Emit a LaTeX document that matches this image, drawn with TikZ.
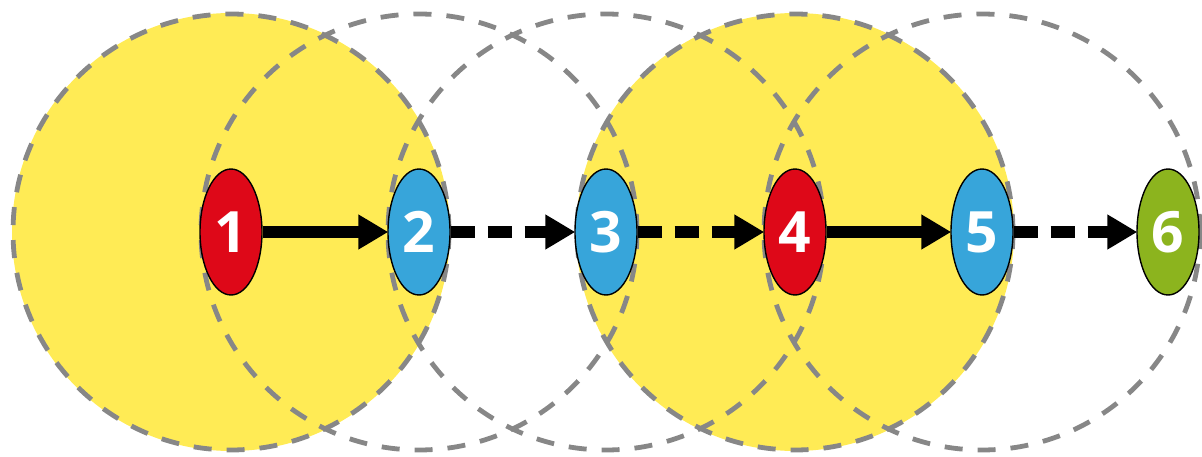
\documentclass[tikz,border=0pt]{standalone}
\usepackage{fontspec}
\setmainfont{Open Sans}
\usetikzlibrary{shapes.geometric,arrows.meta}
\definecolor{ylw}{RGB}{255,235,85}
\definecolor{ringgray}{RGB}{135,135,135}
\definecolor{nred}{RGB}{222,8,24}
\definecolor{nblue}{RGB}{55,165,218}
\definecolor{ngreen}{RGB}{140,180,30}
\tikzset{
  ring/.style={draw=ringgray, line width=4.8pt, dash pattern=on 18pt off 15pt},
  yfill/.style={fill=ylw},
  hop/.style={ellipse, draw=black, line width=1.4pt, minimum width=62pt, minimum height=126pt, inner sep=0pt,
    text=white, font=\fontsize{57}{57}\selectfont\bfseries},
  link/.style={line width=12pt, -{Triangle[length=30pt,width=33pt]}, shorten >=-1pt},
  solidlink/.style={link},
  dashlink/.style={link, dash pattern=on 24pt off 13pt},
}
\begin{document}
\begin{tikzpicture}[x=1pt,y=1pt]
\useasboundingbox (0,0) rectangle (1202,456);
\coordinate (c1) at (231,224);
\coordinate (c2) at (419,224);
\coordinate (c3) at (606,224);
\coordinate (c4) at (795,224);
\coordinate (c5) at (982,224);
\coordinate (c6) at (1168,224);
% yellow discs
\fill[yfill] (c1) circle[radius=219];
\fill[yfill] (c4) circle[radius=219];
% dashed rings
\foreach \c in {c1,c2,c3,c4,c5}{
  \draw[ring] (\c) circle[radius=218];
}
% nodes
\node[hop, fill=nred]   (n1) at (c1) {1};
\node[hop, fill=nblue]  (n2) at (c2) {2};
\node[hop, fill=nblue]  (n3) at (c3) {3};
\node[hop, fill=nred]   (n4) at (c4) {4};
\node[hop, fill=nblue]  (n5) at (c5) {5};
\node[hop, fill=ngreen] (n6) at (c6) {6};
% links
\draw[solidlink] (n1.east) -- (n2.west);
\draw[dashlink]  (n2.east) -- (n3.west);
\draw[dashlink]  (n3.east) -- (n4.west);
\draw[solidlink] (n4.east) -- (n5.west);
\draw[dashlink]  (n5.east) -- (n6.west);
\end{tikzpicture}
\end{document}
